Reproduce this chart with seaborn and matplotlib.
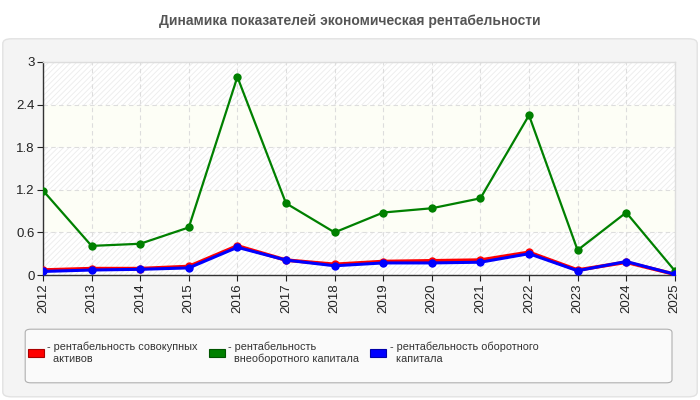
import pandas as pd
import matplotlib.pyplot as plt
import seaborn as sns
from matplotlib.patches import FancyBboxPatch, Patch

years = [2012, 2013, 2014, 2015, 2016, 2017, 2018, 2019, 2020, 2021, 2022, 2023, 2024, 2025]
total_assets = [0.07, 0.09, 0.09, 0.12, 0.41, 0.21, 0.15, 0.19, 0.20, 0.21, 0.32, 0.07, 0.18, 0.01]
noncurrent_capital = [1.19, 0.41, 0.44, 0.67, 2.79, 1.01, 0.60, 0.88, 0.94, 1.08, 2.25, 0.35, 0.88, 0.06]
working_capital = [0.05, 0.07, 0.08, 0.10, 0.39, 0.21, 0.13, 0.17, 0.17, 0.18, 0.30, 0.06, 0.19, 0.01]
y_ticks = [0, 0.6, 1.2, 1.8, 2.4, 3]
labels = ['рентабельность совокупных\nактивов',
          'рентабельность\nвнеоборотного капитала',
          'рентабельность оборотного\nкапитала']

df = pd.DataFrame({'year': years, 'a': total_assets, 'b': noncurrent_capital, 'c': working_capital})

sns.set_style('white')
plt.rcParams['font.family'] = ['Liberation Sans', 'DejaVu Sans']
plt.rcParams['hatch.color'] = '#e8e8e8'
plt.rcParams['hatch.linewidth'] = 0.6

fig = plt.figure(figsize=(7, 4), dpi=100)
fig.patch.set_facecolor('white')

# outer panel
fig.patches.append(FancyBboxPatch((0.004, 0.008), 0.992, 0.895, boxstyle='round,pad=0,rounding_size=0.012',
                                  transform=fig.transFigure, facecolor='#f4f4f4', edgecolor='#e2e2e2',
                                  linewidth=1, zorder=-5))
# legend box
fig.patches.append(FancyBboxPatch((0.036, 0.043), 0.924, 0.134, boxstyle='round,pad=0,rounding_size=0.008',
                                  transform=fig.transFigure, facecolor='#fafafa', edgecolor='#b0b0b0',
                                  linewidth=0.8, zorder=-4))

fig.text(0.5, 0.948, 'Динамика показателей экономическая рентабельности', ha='center', va='center',
         fontsize=10, fontweight='bold', color='#555555')

ax = fig.add_axes([0.0614, 0.3125, 0.9026, 0.5325])
ax.set_zorder(2)
ax.set_facecolor('white')

# alternating bands
for i in range(len(y_ticks) - 1):
    if i % 2 == 0:
        ax.axhspan(y_ticks[i], y_ticks[i + 1], facecolor='white', hatch='//////', edgecolor='#ececec', linewidth=0, zorder=0)
    else:
        ax.axhspan(y_ticks[i], y_ticks[i + 1], facecolor='#fdfef6', linewidth=0, zorder=0)

sns.lineplot(data=df, x='year', y='a', ax=ax, color='#ff0000', linewidth=2.6, marker='o', markersize=6,
             markeredgewidth=0, zorder=3)
sns.lineplot(data=df, x='year', y='b', ax=ax, color='#008000', linewidth=1.6, marker='o', markersize=6,
             markeredgewidth=0, zorder=4)
sns.lineplot(data=df, x='year', y='c', ax=ax, color='#0000ff', linewidth=2.2, marker='o', markersize=6,
             markeredgewidth=0, zorder=5)

ax.set_xlim(2012, 2025)
ax.set_ylim(0, 3)
ax.set_xticks(years)
ax.set_xticklabels([str(y) for y in years], rotation=90)
ax.set_yticks(y_ticks)
ax.set_yticklabels(['0', '0.6', '1.2', '1.8', '2.4', '3'])
ax.set_xlabel('')
ax.set_ylabel('')
ax.grid(True, linestyle=(0, (4, 3)), color='#dddddd', linewidth=0.8, zorder=1)
ax.set_axisbelow(True)
ax.tick_params(axis='both', labelsize=9.5, colors='#222222', length=4, width=0.8, direction='out', pad=2)
ax.tick_params(left=True, bottom=True)
for side in ['left', 'bottom']:
    ax.spines[side].set_color('#333333')
    ax.spines[side].set_linewidth(1)
for side in ['top', 'right']:
    ax.spines[side].set_color('#dddddd')
    ax.spines[side].set_linewidth(1)

handles = [Patch(facecolor=c, edgecolor=e, linewidth=0.8)
           for c, e in [('#ff0000', '#aa0000'), ('#008000', '#005500'), ('#0000ff', '#0000aa')]]
fig.legend(handles, ['- ' + l.replace('\n', '\n  ') for l in labels], ncol=3, loc='upper left',
           bbox_to_anchor=(0.026, 0.17), frameon=False, fontsize=7.8, handlelength=1.5, handleheight=0.8,
           handletextpad=0.3, columnspacing=1.0, labelcolor='#333333', labelspacing=0.2)

fig.savefig('out.png', dpi=100)
